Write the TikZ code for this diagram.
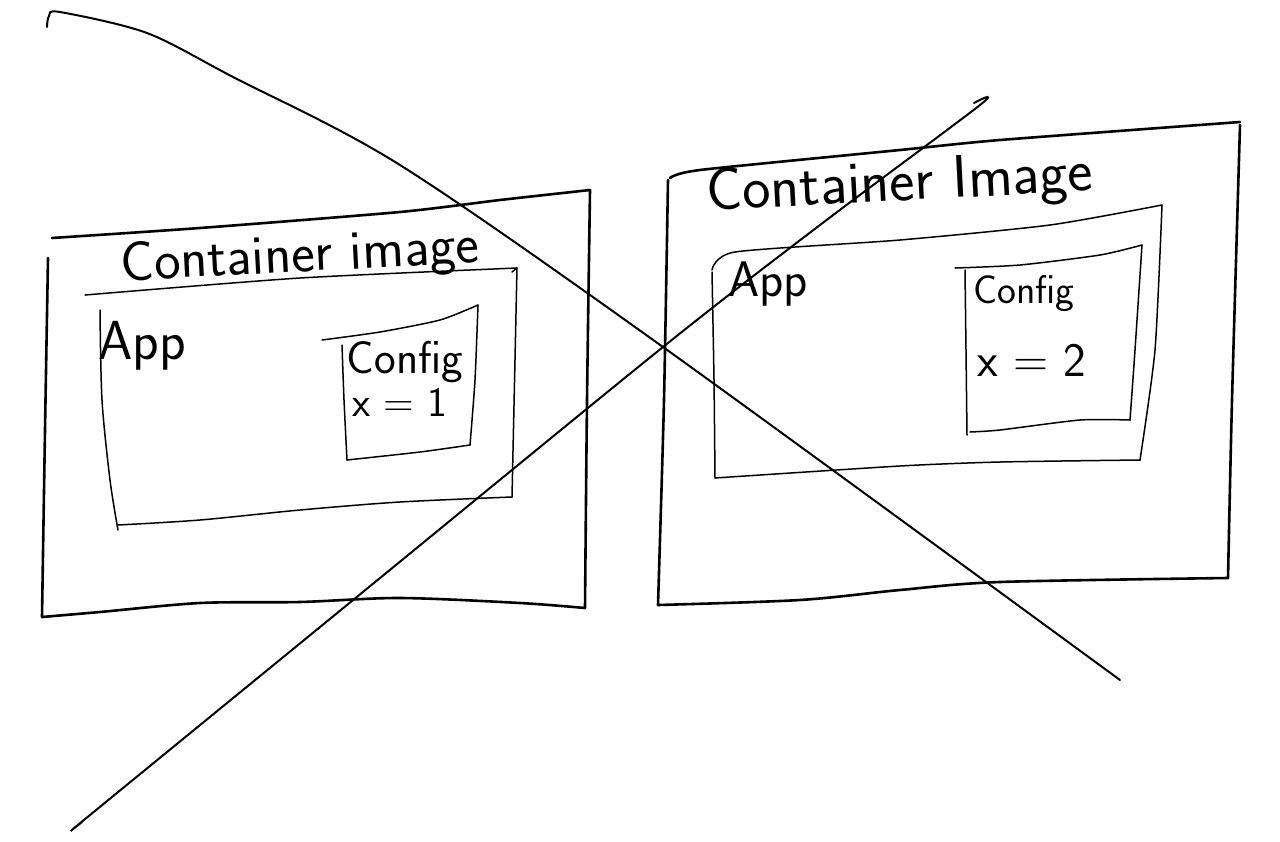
\documentclass[tikz,border=0pt]{standalone}
\begin{document}
\begin{tikzpicture}[x=1pt,y=-1pt,
  thick box/.style={line width=2.6pt,line join=round,line cap=round},
  thin box/.style={line width=1.5pt,line join=round,line cap=round},
  cross/.style={line width=2pt,line cap=round},
  lbl/.style={inner sep=0pt,font=\sffamily}]
\useasboundingbox (0,0) rectangle (1280,841);
\fill[white] (0,0) rectangle (1280,841);

% ---------- left container ----------
\draw[thick box] plot[smooth,tension=0.4] coordinates {(52,238) (200,228) (400,212) (500,200) (590,190)};
\draw[thick box] plot[smooth,tension=0.4] coordinates {(590,190) (587,400) (585,608)};
\draw[thick box] plot[smooth,tension=0.5] coordinates {(585,608) (520,603) (400,598) (300,602) (200,603) (100,612) (42,617)};
\draw[thick box] plot[smooth,tension=0.4] coordinates {(42,617) (45,430) (48,258)};
% app box
\draw[thin box] plot[smooth,tension=0.4] coordinates {(85,295) (300,278) (517,268)};
\draw[thin box] (512,272) -- (517,268) -- (512,497);
\draw[thin box] plot[smooth,tension=0.5] coordinates {(512,497) (400,502) (300,510) (200,520) (118,525)};
\draw[thin box] plot[smooth,tension=0.5] coordinates {(118,530) (110,480) (102,400) (100,310)};
% config box
\draw[thin box] plot[smooth,tension=0.4] coordinates {(322,340) (380,332) (440,320) (478,305)};
\draw[thin box] plot[smooth,tension=0.4] coordinates {(478,305) (475,380) (470,445)};
\draw[thin box] plot[smooth,tension=0.4] coordinates {(470,445) (420,452) (347,460)};
\draw[thin box] plot[smooth,tension=0.4] coordinates {(342,345) (344,400) (347,460)};

% ---------- right container ----------
\draw[thick box] plot[smooth,tension=0.4] coordinates {(670,178) (700,170) (900,150) (1000,140) (1240,122)};
\draw[thick box] plot[smooth,tension=0.4] coordinates {(668,180) (664,400) (658,605)};
\draw[thick box] plot[smooth,tension=0.5] coordinates {(658,605) (800,600) (900,590) (1000,582) (1228,578)};
\draw[thick box] plot[smooth,tension=0.4] coordinates {(1228,578) (1232,400) (1240,125)};
% app box
\draw[thin box] plot[smooth,tension=0.4] coordinates {(712,270) (735,252) (900,240) (1050,225) (1162,205)};
\draw[thin box] plot[smooth,tension=0.4] coordinates {(1162,205) (1155,350) (1140,460)};
\draw[thin box] plot[smooth,tension=0.4] coordinates {(1140,460) (1000,462) (900,466) (715,478)};
\draw[thin box] plot[smooth,tension=0.4] coordinates {(712,272) (714,380) (715,478)};
% config box
\draw[thin box] plot[smooth,tension=0.4] coordinates {(955,268) (1020,265) (1100,255) (1142,245)};
\draw[thin box] plot[smooth,tension=0.4] coordinates {(1142,245) (1135,350) (1130,420)};
\draw[thin box] plot[smooth,tension=0.4] coordinates {(1130,420) (1080,420) (1000,430) (970,432)};
\draw[thin box] plot[smooth,tension=0.4] coordinates {(965,270) (966,350) (967,435)};

% ---------- labels ----------
\node[lbl,rotate=3,font=\sffamily\fontsize{56}{60}\selectfont] (t1) at (300,258) {Container image};
\node[lbl,font=\sffamily\fontsize{55}{60}\selectfont] (a1) at (142,346) {App};
\node[lbl,font=\sffamily\fontsize{46}{50}\selectfont] (c1) at (405,362) {Config};
\node[lbl,font=\sffamily\fontsize{42}{46}\selectfont] (x1) at (400,402) {x = 1};
\node[lbl,rotate=3,font=\sffamily\fontsize{60}{64}\selectfont] (t2) at (900,186) {Container Image};
\node[lbl,font=\sffamily\fontsize{50}{55}\selectfont] (a2) at (768,284) {App};
\node[lbl,font=\sffamily\fontsize{40}{44}\selectfont] (c2) at (1024,294) {Config};
\node[lbl,font=\sffamily\fontsize{48}{52}\selectfont] (x2) at (1032,360) {x = 2};

% ---------- big cross ----------
\coordinate (p1s) at (47,27);
\coordinate (p1e) at (1120,680);
\coordinate (p2s) at (82,822);
\coordinate (p2e) at (980,105);
\draw[cross] plot[smooth,tension=0.5] coordinates {(p1s) (49,16) (60,12) (147,33) (233,77) (400,165) (663,347) (p1e)};
\draw[cross] plot[smooth,tension=0.5] coordinates {(p2s) (90,815) (358,596) (663,347) (820,225) (p2e) (974,103)};
\end{tikzpicture}
\end{document}
